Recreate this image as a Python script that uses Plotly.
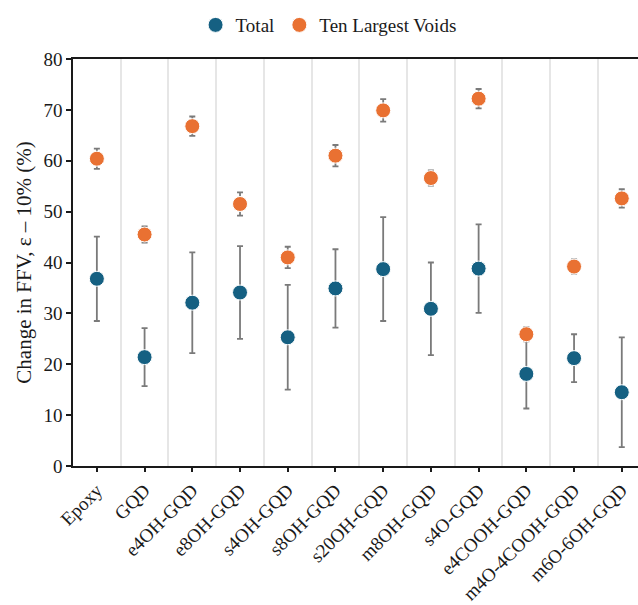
import plotly.graph_objects as go

categories = ["Epoxy", "GQD", "e4OH-GQD", "e8OH-GQD", "s4OH-GQD", "s8OH-GQD",
              "s20OH-GQD", "m8OH-GQD", "s4O-GQD", "e4COOH-GQD", "m4O-4COOH-GQD", "m6O-6OH-GQD"]
total = [36.8, 21.4, 32.1, 34.1, 25.3, 34.9, 38.7, 30.9, 38.8, 18.1, 21.2, 14.5]
total_err = [8.3, 5.7, 9.9, 9.1, 10.3, 7.7, 10.2, 9.1, 8.7, 6.8, 4.7, 10.8]
largest = [60.4, 45.5, 66.8, 51.5, 41.0, 61.0, 69.9, 56.6, 72.2, 25.9, 39.2, 52.6]
largest_err = [2.0, 1.6, 1.9, 2.3, 2.1, 2.1, 2.2, 1.5, 1.9, 1.4, 1.4, 1.8]
y_ticks = [0, 10, 20, 30, 40, 50, 60, 70, 80]

x = list(range(len(categories)))
bounds = [i + 0.5 for i in x[:-1]]

FONT = "Liberation Serif, Times New Roman, serif"
TXT = "#1a1a1a"
err_style = dict(type="data", color="#7a7a7a", thickness=1.8, width=3)

fig = go.Figure()
fig.add_trace(go.Scatter(
    x=x, y=total, mode="markers", name="Total",
    marker=dict(color="#156082", size=15, line=dict(color="white", width=1)),
    error_y=dict(array=total_err, **err_style)))
fig.add_trace(go.Scatter(
    x=x, y=largest, mode="markers", name="Ten Largest Voids",
    marker=dict(color="#E97132", size=15, line=dict(color="white", width=1)),
    error_y=dict(array=largest_err, **err_style)))

fig.update_layout(
    width=638, height=605,
    margin=dict(l=73, r=0, t=59, b=139),
    paper_bgcolor="white", plot_bgcolor="white",
    font=dict(family=FONT, size=19, color=TXT),
    showlegend=True,
    legend=dict(orientation="h", x=0.515, xanchor="center", xref="container",
                y=0.99, yanchor="top", yref="container",
                font=dict(family=FONT, size=19, color=TXT),
                itemwidth=30, tracegroupgap=0),
)

fig.update_xaxes(
    range=[-0.5, 11.34], tickmode="array", tickvals=x, ticktext=categories,
    tickangle=-45, ticks="outside", ticklen=4, tickcolor=TXT, tickwidth=1.5,
    showline=True, linecolor=TXT, linewidth=1.5, mirror=True,
    showgrid=False, zeroline=False,
    tickfont=dict(family=FONT, size=19, color=TXT),
    minor=dict(tickmode="array", tickvals=bounds, showgrid=True,
               gridcolor="#e6e6e6", gridwidth=1.8, ticks=""),
)
fig.update_yaxes(
    range=[0, 80], tickmode="array", tickvals=y_ticks,
    ticks="outside", ticklen=5, tickcolor=TXT, tickwidth=1.5,
    showline=True, linecolor=TXT, linewidth=1.5,
    showgrid=False, zeroline=False,
    tickfont=dict(family=FONT, size=19, color=TXT),
    title=dict(text="Change in FFV, ε – 10% (%)",
               font=dict(family=FONT, size=21, color=TXT), standoff=6),
)

fig.write_html("out.html")
